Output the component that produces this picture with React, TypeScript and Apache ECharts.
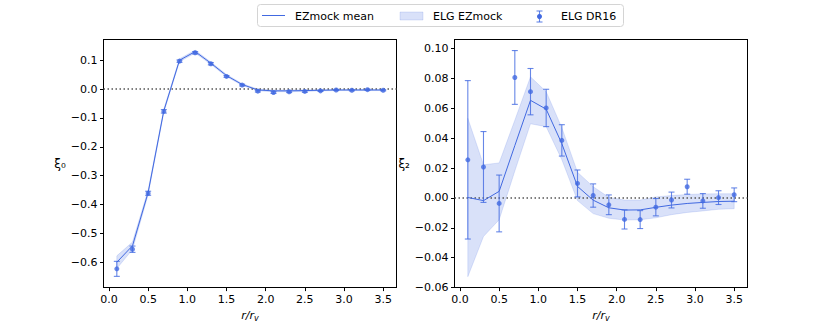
import React, { useEffect, useRef } from "react";
import * as echarts from "echarts";

const r = [0.1, 0.3, 0.5, 0.7, 0.9, 1.1, 1.3, 1.5, 1.7, 1.9, 2.1, 2.3, 2.5, 2.7, 2.9, 3.1, 3.3, 3.5];

// Monopole xi0
const xi0Mean = [-0.6, -0.543, -0.358, -0.075, 0.1, 0.13, 0.09, 0.047, 0.016, -0.003, -0.006, -0.006, -0.005, -0.004, -0.003, -0.003, -0.003, -0.003];
const xi0Sigma = [0.022, 0.013, 0.008, 0.006, 0.005, 0.005, 0.004, 0.004, 0.003, 0.003, 0.003, 0.003, 0.003, 0.002, 0.002, 0.002, 0.002, 0.002];
const xi0Obs = [-0.623, -0.555, -0.361, -0.077, 0.097, 0.126, 0.088, 0.044, 0.014, -0.007, -0.012, -0.009, -0.008, -0.006, -0.003, -0.004, -0.002, -0.004];
const xi0Err = [0.026, 0.011, 0.007, 0.006, 0.004, 0.004, 0.004, 0.003, 0.003, 0.003, 0.003, 0.003, 0.003, 0.002, 0.002, 0.002, 0.002, 0.002];

// Quadrupole xi2
const xi2Mean = [0.0003, -0.0018, 0.0044, 0.035, 0.0653, 0.0594, 0.0363, 0.0077, -0.0015, -0.0066, -0.0081, -0.008, -0.0063, -0.0048, -0.0037, -0.003, -0.0024, -0.0022];
const xi2Sigma = [0.053, 0.024, 0.019, 0.017, 0.0157, 0.0117, 0.0107, 0.0095, 0.009, 0.007, 0.0067, 0.0066, 0.007, 0.0064, 0.006, 0.0057, 0.0052, 0.005];
const xi2Obs = [0.0255, 0.0207, -0.0037, 0.0806, 0.0711, 0.0602, 0.0385, 0.0097, 0.0016, -0.0046, -0.0144, -0.0145, -0.0062, -0.0014, 0.0075, -0.002, 0.0002, 0.0021];
const xi2Err = [0.053, 0.0237, 0.019, 0.018, 0.0155, 0.0125, 0.0105, 0.009, 0.0078, 0.0066, 0.0064, 0.006, 0.0058, 0.0053, 0.005, 0.0049, 0.0046, 0.0046];

const xTicks = [0, 0.5, 1, 1.5, 2, 2.5, 3, 3.5];
const y0Ticks = [-0.6, -0.5, -0.4, -0.3, -0.2, -0.1, 0, 0.1];
const y2Ticks = [-0.06, -0.04, -0.02, 0, 0.02, 0.04, 0.06, 0.08, 0.1];

const legendNames = ["EZmock mean", "ELG EZmock", "ELG DR16"];

const BLUE = "#4169e1";
const FONT = "DejaVu Sans";

const fmt = (d: number) => (v: number) => {
  const s = Number(v).toFixed(d);
  const z = Number(s) === 0 ? (0).toFixed(d) : s;
  return z.replace("-", "\u2212");
};

function panelSeries(idx: number, mean: number[], sigma: number[], obs: number[], err: number[]) {
  const axes = { xAxisIndex: idx, yAxisIndex: idx };
  const bandData = r.map((x, i) => [x, mean[i] - sigma[i], mean[i] + sigma[i]]);
  return [
    {
      type: "custom",
      ...axes,
      name: legendNames[1],
      silent: true,
      data: bandData,
      encode: { x: 0, y: [1, 2] },
      renderItem: (params: any, api: any) => {
        if (params.dataIndex !== 0) return null;
        const upper = bandData.map((d) => api.coord([d[0], d[2]]));
        const lower = bandData.map((d) => api.coord([d[0], d[1]])).reverse();
        return {
          type: "polygon",
          shape: { points: upper.concat(lower) },
          style: { fill: "rgba(65,105,225,0.2)", stroke: "rgba(65,105,225,0.2)", lineWidth: 0.8 },
        };
      },
      z: 1,
    },
    {
      type: "line",
      ...axes,
      name: legendNames[0],
      symbol: "none",
      silent: true,
      lineStyle: { color: BLUE, width: 1 },
      data: r.map((x, i) => [x, mean[i]]),
      z: 3,
      markLine: {
        silent: true,
        symbol: "none",
        label: { show: false },
        lineStyle: { color: "#555", width: 1.5, type: [1.5, 2.5] },
        data: [{ yAxis: 0 }],
        z: 2,
      },
    },
    {
      type: "custom",
      ...axes,
      name: legendNames[2] + " err",
      silent: true,
      data: r.map((x, i) => [x, obs[i] - err[i], obs[i] + err[i]]),
      encode: { x: 0, y: [1, 2] },
      renderItem: (params: any, api: any) => {
        const x = api.value(0);
        const lo = api.coord([x, api.value(1)]);
        const hi = api.coord([x, api.value(2)]);
        const st = { stroke: BLUE, lineWidth: 1.1, opacity: 0.8 };
        const c = 3;
        return {
          type: "group",
          children: [
            { type: "line", shape: { x1: lo[0], y1: lo[1], x2: hi[0], y2: hi[1] }, style: st },
            { type: "line", shape: { x1: lo[0] - c, y1: lo[1], x2: lo[0] + c, y2: lo[1] }, style: st },
            { type: "line", shape: { x1: hi[0] - c, y1: hi[1], x2: hi[0] + c, y2: hi[1] }, style: st },
          ],
        };
      },
      z: 4,
    },
    {
      type: "scatter",
      ...axes,
      name: legendNames[2],
      symbol: "circle",
      symbolSize: 5,
      silent: true,
      itemStyle: { color: BLUE },
      data: r.map((x, i) => [x, obs[i]]),
      z: 5,
    },
  ];
}

function xAxisCfg(idx: number) {
  return {
    type: "value",
    gridIndex: idx,
    position: "bottom",
    min: -0.07,
    max: 3.67,
    axisLine: { show: true, onZero: false, lineStyle: { color: "#000", width: 1 } },
    axisTick: { show: true, customValues: xTicks, length: 3.5, lineStyle: { color: "#000" } },
    axisLabel: { customValues: xTicks, formatter: fmt(1), color: "#000", fontSize: 11, fontFamily: FONT, margin: 6 },
    splitLine: { show: false },
    name: "{i|r/r}{s|v}",
    nameLocation: "middle",
    nameGap: 19,
    nameTextStyle: {
      rich: {
        i: { fontStyle: "italic", fontSize: 11, fontFamily: FONT, color: "#000" },
        s: { fontStyle: "italic", fontSize: 8, fontFamily: FONT, color: "#000", padding: [6, 0, 0, 0] },
      },
    },
  };
}

function frameX(idx: number) {
  return {
    type: "value",
    gridIndex: idx,
    position: "top",
    min: -0.07,
    max: 3.67,
    axisLine: { show: true, onZero: false, lineStyle: { color: "#000", width: 1 } },
    axisTick: { show: false },
    axisLabel: { show: false },
    splitLine: { show: false },
  };
}

function frameY(idx: number, min: number, max: number) {
  return {
    type: "value",
    gridIndex: idx,
    position: "right",
    min,
    max,
    axisLine: { show: true, onZero: false, lineStyle: { color: "#000", width: 1 } },
    axisTick: { show: false },
    axisLabel: { show: false },
    splitLine: { show: false },
  };
}

function yAxisCfg(idx: number, min: number, max: number, ticks: number[], dec: number, name: string, gap: number) {
  return {
    type: "value",
    gridIndex: idx,
    position: "left",
    min,
    max,
    axisLine: { show: true, onZero: false, lineStyle: { color: "#000", width: 1 } },
    axisTick: { show: true, customValues: ticks, length: 3.5, lineStyle: { color: "#000" } },
    axisLabel: { customValues: ticks, formatter: fmt(dec), color: "#000", fontSize: 11, fontFamily: FONT, margin: 6 },
    splitLine: { show: false },
    name,
    nameLocation: "middle",
    nameRotate: 0,
    nameGap: gap,
    nameTextStyle: { fontSize: 12, fontFamily: FONT, color: "#000", padding: [0, 0, 10, 0] },
  };
}

const Y0 = [-0.688, 0.172];
const Y2 = [-0.06, 0.106];

export default function App() {
  const ref = useRef<HTMLDivElement>(null);
  useEffect(() => {
    if (!ref.current) return;
    const chart = echarts.init(ref.current, undefined, { renderer: "svg" });
    const legendText = { fontSize: 11, fontFamily: FONT, fill: "#000", verticalAlign: "middle" };
    const option: any = {
      animation: false,
      backgroundColor: "#fff",
      grid: [
        { left: 103.5, top: 39.5, width: 293, height: 251 },
        { left: 454.5, top: 39.5, width: 293, height: 251 },
      ],
      xAxis: [xAxisCfg(0), xAxisCfg(1), frameX(0), frameX(1)],
      yAxis: [
        yAxisCfg(0, Y0[0], Y0[1], y0Ticks, 1, "\u03be\u2080", 37),
        yAxisCfg(1, Y2[0], Y2[1], y2Ticks, 2, "\u03be\u2082", 44),
        frameY(0, Y0[0], Y0[1]),
        frameY(1, Y2[0], Y2[1]),
      ],
      series: [
        ...panelSeries(0, xi0Mean, xi0Sigma, xi0Obs, xi0Err),
        ...panelSeries(1, xi2Mean, xi2Sigma, xi2Obs, xi2Err),
      ],
      graphic: [
        {
          type: "rect",
          shape: { x: 257.5, y: 4.5, width: 366, height: 22, r: 3 },
          style: { fill: "rgba(255,255,255,0.8)", stroke: "#d4d4d4", lineWidth: 1 },
          z: 10,
        },
        { type: "line", shape: { x1: 262, y1: 15.5, x2: 285, y2: 15.5 }, style: { stroke: BLUE, lineWidth: 1 }, z: 11 },
        { type: "text", x: 295, y: 16, style: { text: legendNames[0], ...legendText }, z: 11 },
        {
          type: "rect",
          shape: { x: 400, y: 12, width: 23, height: 8 },
          style: { fill: "rgba(65,105,225,0.2)", stroke: "rgba(65,105,225,0.2)", lineWidth: 0.8 },
          z: 11,
        },
        { type: "text", x: 433, y: 16, style: { text: legendNames[1], ...legendText }, z: 11 },
        { type: "line", shape: { x1: 539.5, y1: 11, x2: 539.5, y2: 22 }, style: { stroke: BLUE, lineWidth: 1.1, opacity: 0.8 }, z: 11 },
        { type: "line", shape: { x1: 536.5, y1: 11, x2: 542.5, y2: 11 }, style: { stroke: BLUE, lineWidth: 1.1, opacity: 0.8 }, z: 11 },
        { type: "line", shape: { x1: 536.5, y1: 22, x2: 542.5, y2: 22 }, style: { stroke: BLUE, lineWidth: 1.1, opacity: 0.8 }, z: 11 },
        { type: "circle", shape: { cx: 539.5, cy: 16.5, r: 2.5 }, style: { fill: BLUE }, z: 11 },
        { type: "text", x: 561, y: 16, style: { text: legendNames[2], ...legendText }, z: 11 },
      ],
    };
    chart.setOption(option);
    return () => chart.dispose();
  }, []);
  return <div ref={ref} style={{ position: "absolute", left: 0, top: 0, width: 830, height: 327 }} />;
}
